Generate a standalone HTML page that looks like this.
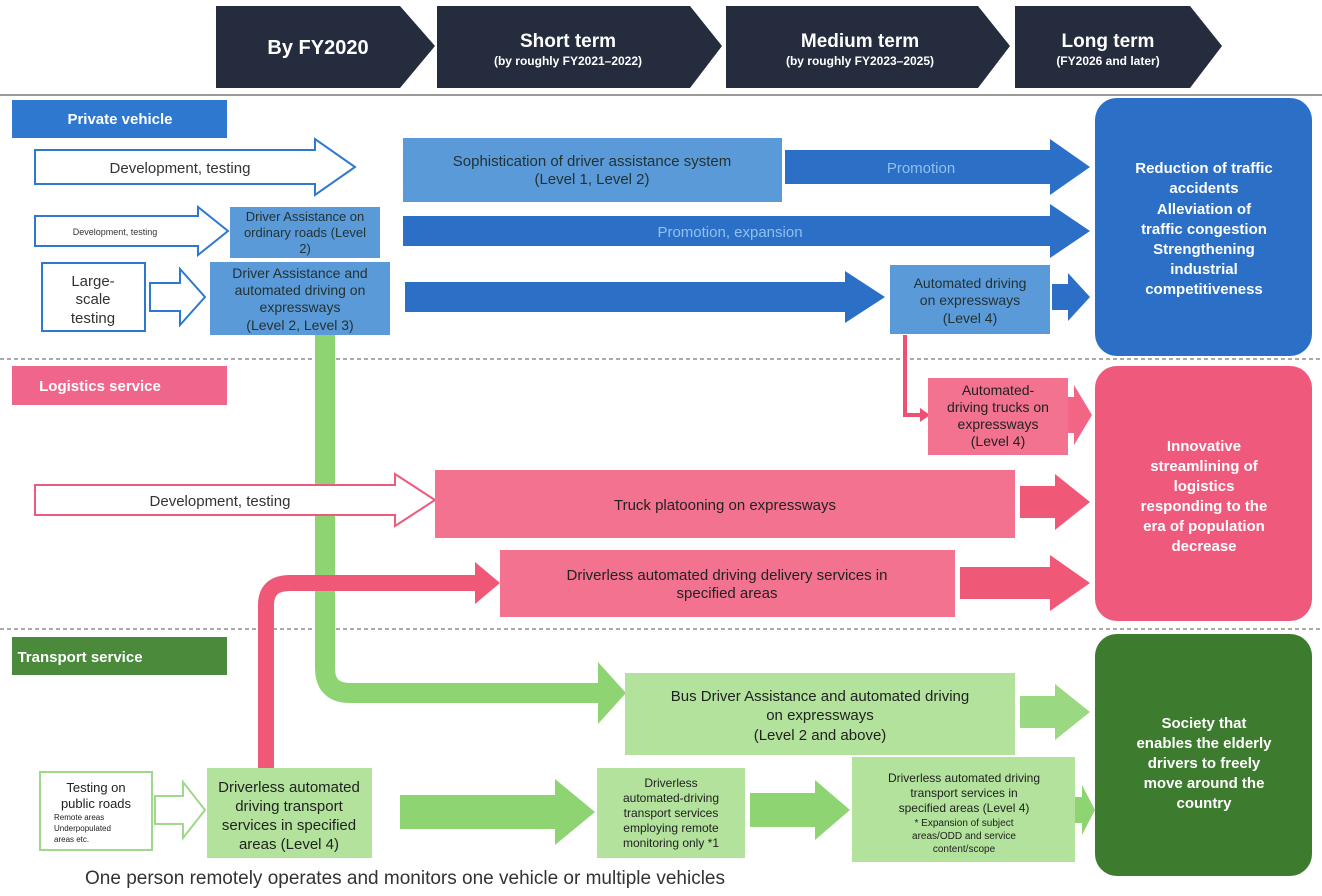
<!DOCTYPE html>
<html><head><meta charset="utf-8"><style>
html,body{margin:0;padding:0;background:#fff;}
svg{display:block;font-family:"Liberation Sans",sans-serif;}
</style></head><body>
<svg width="1322" height="896" viewBox="0 0 1322 896" xmlns="http://www.w3.org/2000/svg">
<!-- header -->
<g fill="#252c3d">
<polygon points="216,6 400,6 435,46 400,88 216,88"/>
<polygon points="437,6 690,6 722,46 690,88 437,88 "/>
<polygon points="726,6 978,6 1010,46 978,88 726,88"/>
<polygon points="1015,6 1190,6 1222,46 1190,88 1015,88"/>
</g>
<g fill="#fff" font-weight="bold" text-anchor="middle">
<text x="318" y="54" font-size="20">By FY2020</text>
<text x="568" y="47" font-size="19">Short term</text>
<text x="568" y="65" font-size="12">(by roughly FY2021–2022)</text>
<text x="860" y="47" font-size="19">Medium term</text>
<text x="860" y="65" font-size="12">(by roughly FY2023–2025)</text>
<text x="1108" y="47" font-size="19">Long term</text>
<text x="1108" y="65" font-size="12">(FY2026 and later)</text>
</g>
<line x1="0" y1="95" x2="1322" y2="95" stroke="#9a9a9a" stroke-width="2"/>
<line x1="0" y1="359" x2="1322" y2="359" stroke="#aaa" stroke-width="2" stroke-dasharray="4,3"/>
<line x1="0" y1="629" x2="1322" y2="629" stroke="#aaa" stroke-width="2" stroke-dasharray="4,3"/>

<!-- section labels -->
<rect x="12" y="100" width="215" height="38" fill="#2e78cf"/>
<text x="120" y="124" fill="#fff" font-size="15" font-weight="bold" text-anchor="middle">Private vehicle</text>
<rect x="12" y="366" width="215" height="39" fill="#f0668a"/>
<text x="100" y="391" fill="#fff" font-size="15" font-weight="bold" text-anchor="middle">Logistics service</text>
<rect x="12" y="637" width="215" height="38" fill="#4a8a3a"/>
<text x="80" y="662" fill="#fff" font-size="15" font-weight="bold" text-anchor="middle">Transport service</text>

<!-- outcome boxes -->
<rect x="1095" y="98" width="217" height="258" rx="22" fill="#2b6fc6"/>
<g fill="#fff" font-weight="bold" font-size="15" text-anchor="middle">
<text x="1204" y="173">Reduction of traffic</text>
<text x="1204" y="193">accidents</text>
<text x="1204" y="214">Alleviation of</text>
<text x="1204" y="234">traffic congestion</text>
<text x="1204" y="254">Strengthening</text>
<text x="1204" y="274">industrial</text>
<text x="1204" y="294">competitiveness</text>
</g>
<rect x="1095" y="366" width="217" height="255" rx="22" fill="#ef5a7c"/>
<g fill="#fff" font-weight="bold" font-size="15" text-anchor="middle">
<text x="1204" y="451">Innovative</text>
<text x="1204" y="471">streamlining of</text>
<text x="1204" y="491">logistics</text>
<text x="1204" y="511">responding to the</text>
<text x="1204" y="531">era of population</text>
<text x="1204" y="551">decrease</text>
</g>
<rect x="1095" y="634" width="217" height="242" rx="22" fill="#3d7b2e"/>
<g fill="#fff" font-weight="bold" font-size="15" text-anchor="middle">
<text x="1204" y="728">Society that</text>
<text x="1204" y="748">enables the elderly</text>
<text x="1204" y="768">drivers to freely</text>
<text x="1204" y="788">move around the</text>
<text x="1204" y="808">country</text>
</g>

<!-- private vehicle row -->
<polygon points="35,150 315,150 315,139 355,167 315,195 315,184 35,184" fill="#fff" stroke="#2e78cf" stroke-width="2"/>
<text x="180" y="173" font-size="15" fill="#333" text-anchor="middle">Development, testing</text>
<rect x="403" y="138" width="379" height="64" fill="#5b9ad9"/>
<text x="592" y="166" font-size="15" fill="#233" text-anchor="middle">Sophistication of driver assistance system</text>
<text x="592" y="184" font-size="15" fill="#233" text-anchor="middle">(Level 1, Level 2)</text>
<polygon points="785,150 1050,150 1050,139 1090,167 1050,195 1050,184 785,184" fill="#2b6fc6"/>
<text x="921" y="173" font-size="15" fill="#8fc0f0" text-anchor="middle">Promotion</text>

<polygon points="35,216 198,216 198,207 228,231 198,255 198,246 35,246" fill="#fff" stroke="#2e78cf" stroke-width="2"/>
<text x="115" y="235" font-size="9" fill="#333" text-anchor="middle">Development, testing</text>
<rect x="230" y="207" width="150" height="51" fill="#5b9ad9"/>
<g font-size="13" fill="#233" text-anchor="middle">
<text x="305" y="221">Driver Assistance on</text>
<text x="305" y="237">ordinary roads (Level</text>
<text x="305" y="253">2)</text>
</g>
<polygon points="403,216 1050,216 1050,204 1090,231 1050,258 1050,246 403,246" fill="#2b6fc6"/>
<text x="730" y="237" font-size="15" fill="#8fc0f0" text-anchor="middle">Promotion, expansion</text>

<rect x="42" y="263" width="103" height="68" fill="#fff" stroke="#2e78cf" stroke-width="2"/>
<g font-size="15" fill="#333" text-anchor="middle">
<text x="93" y="286">Large-</text>
<text x="93" y="304">scale</text>
<text x="93" y="323">testing</text>
</g>
<polygon points="150,283 180,283 180,269 205,297 180,325 180,311 150,311" fill="#fff" stroke="#2e78cf" stroke-width="2"/>
<rect x="210" y="262" width="180" height="73" fill="#5b9ad9"/>
<g font-size="14" fill="#233" text-anchor="middle">
<text x="300" y="278">Driver Assistance and</text>
<text x="300" y="295">automated driving on</text>
<text x="300" y="312">expressways</text>
<text x="300" y="330">(Level 2, Level 3)</text>
</g>
<polygon points="405,282 845,282 845,271 885,297 845,323 845,312 405,312" fill="#2b6fc6"/>
<rect x="890" y="265" width="160" height="69" fill="#5b9ad9"/>
<g font-size="14" fill="#233" text-anchor="middle">
<text x="970" y="288">Automated driving</text>
<text x="970" y="305">on expressways</text>
<text x="970" y="323">(Level 4)</text>
</g>
<polygon points="1052,284 1068,284 1068,273 1090,297 1068,321 1068,310 1052,310" fill="#2b6fc6"/>

<!-- green L connector -->
<path d="M325,335 V668 Q325,693 350,693 H600" fill="none" stroke="#8fd473" stroke-width="20"/>
<polygon points="598,662 626,693 598,724" fill="#8fd473"/>

<!-- logistics -->
<path d="M905,335 V415 H922" fill="none" stroke="#ef4f72" stroke-width="4"/>
<polygon points="920,408 930,415 920,422" fill="#ef4f72"/>
<rect x="928" y="378" width="140" height="77" fill="#f3728f"/>
<g font-size="14" fill="#222" text-anchor="middle">
<text x="998" y="395">Automated-</text>
<text x="998" y="412">driving trucks on</text>
<text x="998" y="429">expressways</text>
<text x="998" y="446">(Level 4)</text>
</g>
<polygon points="1068,397 1074,397 1074,385 1092,415 1074,445 1074,433 1068,433" fill="#f26584"/>

<polygon points="35,485 395,485 395,474 435,500 395,526 395,515 35,515" fill="#fff" stroke="#ef5a7c" stroke-width="2"/>
<text x="220" y="506" font-size="15" fill="#333" text-anchor="middle">Development, testing</text>
<rect x="435" y="470" width="580" height="68" fill="#f3728f"/>
<text x="725" y="510" font-size="15" fill="#222" text-anchor="middle">Truck platooning on expressways</text>
<polygon points="1020,486 1055,486 1055,474 1090,502 1055,530 1055,518 1020,518" fill="#ef5876"/>

<rect x="500" y="550" width="455" height="67" fill="#f3728f"/>
<text x="727" y="580" font-size="15" fill="#222" text-anchor="middle">Driverless automated driving delivery services in</text>
<text x="727" y="598" font-size="15" fill="#222" text-anchor="middle">specified areas</text>
<polygon points="960,567 1050,567 1050,555 1090,583 1050,611 1050,599 960,599" fill="#ef5876"/>

<!-- pink L connector -->
<path d="M266,772 V605 Q266,583 290,583 H478" fill="none" stroke="#ef5876" stroke-width="16"/>
<polygon points="475,562 500,583 475,604" fill="#ef5876"/>

<!-- transport -->
<rect x="625" y="673" width="390" height="82" fill="#b2e29c"/>
<g font-size="15" fill="#222" text-anchor="middle">
<text x="820" y="701">Bus Driver Assistance and automated driving</text>
<text x="820" y="720">on expressways</text>
<text x="820" y="740">(Level 2 and above)</text>
</g>
<polygon points="1020,696 1055,696 1055,684 1090,712 1055,740 1055,728 1020,728" fill="#9bd882"/>

<rect x="40" y="772" width="112" height="78" fill="#fff" stroke="#9fd88a" stroke-width="2"/>
<g fill="#222" text-anchor="middle">
<text x="96" y="792" font-size="13">Testing on</text>
<text x="96" y="808" font-size="13">public roads</text>
</g>
<g fill="#222" font-size="8">
<text x="54" y="820">Remote areas</text>
<text x="54" y="831">Underpopulated</text>
<text x="54" y="842">areas etc.</text>
</g>
<polygon points="155,796 183,796 183,782 205,810 183,838 183,824 155,824" fill="#fff" stroke="#9fd88a" stroke-width="2"/>
<rect x="207" y="768" width="165" height="90" fill="#b2e29c"/>
<g font-size="15" fill="#222" text-anchor="middle">
<text x="289" y="792">Driverless automated</text>
<text x="289" y="811">driving transport</text>
<text x="289" y="830">services in specified</text>
<text x="289" y="849">areas (Level 4)</text>
</g>
<polygon points="400,795 555,795 555,779 595,812 555,845 555,829 400,829" fill="#8fd473"/>
<rect x="597" y="768" width="148" height="90" fill="#b2e29c"/>
<g font-size="12" fill="#222" text-anchor="middle">
<text x="671" y="787">Driverless</text>
<text x="671" y="802">automated-driving</text>
<text x="671" y="817">transport services</text>
<text x="671" y="832">employing remote</text>
<text x="671" y="847">monitoring only *1</text>
</g>
<polygon points="750,793 815,793 815,780 850,810 815,840 815,827 750,827" fill="#8fd473"/>
<rect x="852" y="757" width="223" height="105" fill="#b2e29c"/>
<g fill="#222" text-anchor="middle">
<text x="964" y="782" font-size="12">Driverless automated driving</text>
<text x="964" y="797" font-size="12">transport services in</text>
<text x="964" y="812" font-size="12">specified areas (Level 4)</text>
<text x="964" y="826" font-size="10">* Expansion of subject</text>
<text x="964" y="839" font-size="10">areas/ODD and service</text>
<text x="964" y="852" font-size="10">content/scope</text>
</g>
<polygon points="1075,797 1082,797 1082,785 1095,810 1082,835 1082,823 1075,823" fill="#8fd473"/>

<text x="85" y="884" font-size="19" fill="#333">One person remotely operates and monitors one vehicle or multiple vehicles</text>
</svg>
</body></html>
